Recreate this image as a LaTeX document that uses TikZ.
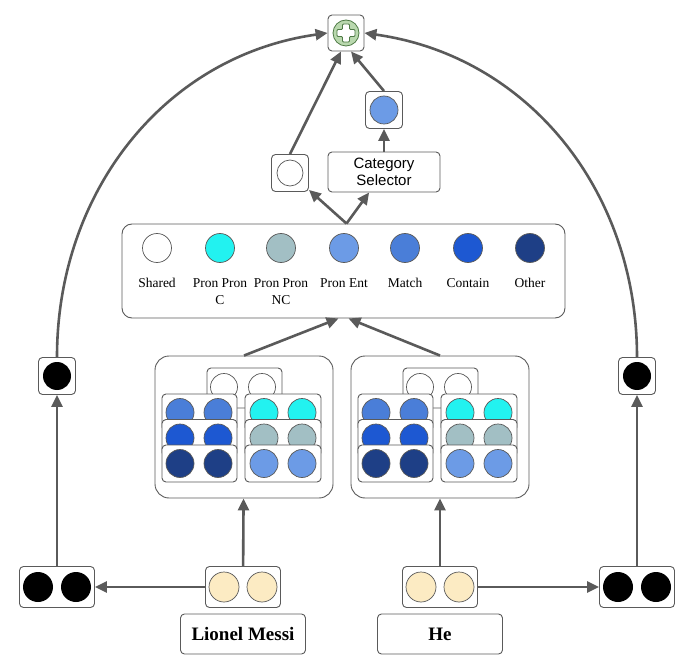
\documentclass[tikz,border=0pt]{standalone}
\usepackage{fontspec}
\setmainfont{Liberation Serif}
\newfontfamily\selfont{Liberation Sans}
\usetikzlibrary{arrows.meta}

\definecolor{cShared}{HTML}{FFFFFF}
\definecolor{cPronC}{HTML}{22F2F0}
\definecolor{cPronNC}{HTML}{A2BFC4}
\definecolor{cPronEnt}{HTML}{6C9BE6}
\definecolor{cMatch}{HTML}{4A7ED8}
\definecolor{cContain}{HTML}{1D58D2}
\definecolor{cOther}{HTML}{1E3F86}
\definecolor{cWord}{HTML}{FCEBC3}
\definecolor{cLine}{HTML}{5A5A5A}
\definecolor{cPlus}{HTML}{B9D8AE}
\definecolor{cPlusEdge}{HTML}{4E7A45}

\begin{document}
\begin{tikzpicture}[x=1pt, y=-1pt,
	box/.style = {draw = cLine, fill = white, rounded corners = 4pt, line width = 0.9pt, inner sep = 0pt},
	dot/.style = {draw = black!65, line width = 0.7pt},
	arr/.style = {draw = cLine, line width = 2.6pt, -{Triangle[length = 12pt, width = 11pt]}},
	lbl/.style = {font = \fontsize{13.5}{17}\selectfont, align = center, inner sep = 0pt}]
	\useasboundingbox (0,0) rectangle (686,658);

	% sum at the top
	\node[box, minimum size = 36pt] (sum) at (346,33) {};
	\draw[fill = cPlus, draw = cPlusEdge, line width = 0.8pt] (346,33) circle (13pt);
	\draw[fill = white, draw = cPlusEdge, line width = 0.8pt, rounded corners = 1pt, shift = {(346,33)}]
		(-3.5,-9) -- (3.5,-9) -- (3.5,-3.5) -- (9,-3.5) -- (9,3.5) -- (3.5,3.5) -- (3.5,9)
		-- (-3.5,9) -- (-3.5,3.5) -- (-9,3.5) -- (-9,-3.5) -- (-3.5,-3.5) -- cycle;

	\node[box, minimum size = 37pt] (cat) at (384,110) {};
	\draw[dot, fill = cPronEnt] (cat) circle (14pt);
	\node[box, minimum size = 37pt] (self) at (290,173) {};
	\draw[dot, fill = white] (self) circle (13pt);
	\node[box, minimum width = 112pt, minimum height = 40pt, align = center,
		font = \selfont\fontsize{15}{17}\selectfont] (sel) at (384,172) {Category\\Selector};

	% legend of the mention-pair types
	\node[box, rounded corners = 10pt, minimum width = 443pt, minimum height = 94pt] (legend) at (343.5,271) {};
	\foreach \x/\c/\t in {157/cShared/Shared, 220/cPronC/{Pron Pron\\C}, 281/cPronNC/{Pron Pron\\NC},
		344/cPronEnt/Pron Ent, 405/cMatch/Match, 468/cContain/Contain, 530/cOther/Other}{
		\draw[dot, fill = \c] (\x,248) circle (14.5pt);
		\node[lbl, anchor = north] at (\x,278) {\t};
	}

	% two encoders, one per mention
	\foreach \s/\n in {0/encL, 196/encR}{
		\begin{scope}[xshift = \s pt]
			\node[box, rounded corners = 14pt, minimum width = 178pt, minimum height = 142pt] (\n) at (244,427) {};
			\draw[box] (207,368) rectangle (282,408);
			\draw[dot, fill = white] (224,387) circle (13.5pt) (262,387) circle (13.5pt);
			\foreach \y/\a/\b in {394/cMatch/cPronC, 419.5/cContain/cPronNC, 445/cOther/cPronEnt}{
				\draw[box] (162,\y) rectangle (237,{\y+37});
				\draw[dot, fill = \a] (180,{\y+18.5}) circle (14pt) (218,{\y+18.5}) circle (14pt);
				\draw[box] (245,\y) rectangle (321,{\y+37});
				\draw[dot, fill = \b] (264,{\y+18.5}) circle (14pt) (302,{\y+18.5}) circle (14pt);
			}
		\end{scope}
	}

	% words and their hidden states
	\node[box, minimum width = 75pt, minimum height = 41pt] (wordL) at (243,587) {};
	\draw[dot, fill = cWord] (224,587) circle (15pt) (262,587) circle (15pt);
	\node[box, minimum width = 75pt, minimum height = 41pt] (wordR) at (440,587) {};
	\draw[dot, fill = cWord] (421,587) circle (15pt) (459,587) circle (15pt);
	\node[box, minimum width = 75pt, minimum height = 41pt] (outL) at (57,587) {};
	\fill (38,587) circle (15pt) (76,587) circle (15pt);
	\node[box, minimum width = 75pt, minimum height = 41pt] (outR) at (637,587) {};
	\fill (618,587) circle (15pt) (656,587) circle (15pt);
	\node[box, minimum size = 37pt] (hidL) at (57,376) {};
	\fill (57,376) circle (14pt);
	\node[box, minimum size = 37pt] (hidR) at (637,376) {};
	\fill (637,376) circle (14pt);
	\node[box, minimum width = 125pt, minimum height = 40pt, font = \bfseries\fontsize{19}{19}\selectfont] (txtL) at (243,634) {Lionel Messi};
	\node[box, minimum width = 125pt, minimum height = 40pt, font = \bfseries\fontsize{19}{19}\selectfont] (txtR) at (440,634) {He};

	\draw[arr] (wordL) -- (outL);
	\draw[arr] (wordR) -- (outR);
	\draw[arr] (wordL) -- (encL);
	\draw[arr] (wordR) -- (encR);
	\draw[arr] (outL) -- (hidL);
	\draw[arr] (outR) -- (hidR);
	\draw[arr] (encL.north) -- ([xshift = -5pt]legend.south);
	\draw[arr] (encR.north) -- ([xshift = 5pt]legend.south);
	\draw[arr] ([xshift = 3pt]legend.north) -- (self);
	\draw[arr] ([xshift = 3pt]legend.north) -- (sel);
	\draw[arr] (sel) -- (cat);
	\draw[arr] (self.north) -- ([xshift = -5pt]sum.south);
	\draw[arr] (cat.north) -- ([xshift = 5pt]sum.south);
	\draw[arr] (hidL.north) to[out = 90, in = 188] (sum.west);
	\draw[arr] (hidR.north) to[out = 90, in = -8] (sum.east);
\end{tikzpicture}
\end{document}
